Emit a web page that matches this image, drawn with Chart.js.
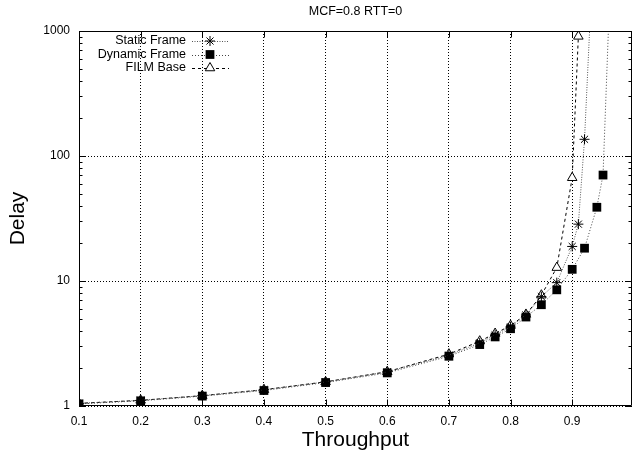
<!DOCTYPE html>
<html>
<head>
<meta charset="utf-8">
<script src="https://cdn.jsdelivr.net/npm/chart.js@4/dist/chart.umd.min.js"></script>
<style>
html,body{margin:0;padding:0;background:#fff;}
#c{display:block;}
</style>
</head>
<body>
<canvas id="c" width="632" height="452"></canvas>
<script>
// ---- data ----
const titleText = 'MCF=0.8 RTT=0';
const xTitle = 'Throughput';
const yTitle = 'Delay';
const seriesNames = ['Static Frame', 'Dynamic Frame', 'FILM Base'];

const staticX = [0.1,0.2,0.3,0.4,0.5,0.6,0.7,0.75,0.775,0.8,0.825,0.85,0.875,0.9,0.91,0.92,0.93];
const staticY = [1.05,1.11,1.21,1.35,1.56,1.88,2.55,3.2,3.7,4.3,5.35,7.5,9.7,18.9,28.5,136,1550];

const dynamicX = [0.1,0.2,0.3,0.4,0.5,0.6,0.7,0.75,0.775,0.8,0.825,0.85,0.875,0.9,0.92,0.94,0.95,0.96];
const dynamicY = [1.04,1.1,1.2,1.33,1.54,1.84,2.5,3.1,3.57,4.15,5.15,6.46,8.5,12.4,18.3,38.9,70.4,1500];

const filmX = [0.1,0.2,0.3,0.4,0.5,0.6,0.7,0.75,0.775,0.8,0.825,0.85,0.875,0.9,0.91];
const filmY = [1.05,1.11,1.21,1.35,1.56,1.88,2.6,3.3,3.8,4.4,5.4,7.7,12.8,67,906];

const xTickValues = [0.1,0.2,0.3,0.4,0.5,0.6,0.7,0.8,0.9];
const yMajorTicks = [1,10,100,1000];

// ---- helpers ----
const toPts = (xs, ys) => xs.map((x, i) => ({x: x, y: ys[i]}));
const isMajorY = v => Math.abs(Math.log10(v) - Math.round(Math.log10(v))) < 1e-9;
const yTickValues = [];
for (let d = 0; d < 3; d++) {
  for (let m = 1; m < 10; m++) yTickValues.push(m * Math.pow(10, d));
}
yTickValues.push(1000);

const FONT = '"Liberation Sans", Arial, Helvetica, sans-serif';

const datasets = [
  {label: seriesNames[0], data: toPts(staticX, staticY), borderColor: '#555', borderWidth: 1,
   borderDash: [1, 1.5], pointStyle: 'star', pointRadius: 5, pointBorderColor: '#000',
   pointBackgroundColor: '#000', pointBorderWidth: 1},
  {label: seriesNames[1], data: toPts(dynamicX, dynamicY), borderColor: '#444', borderWidth: 1,
   borderDash: [1, 2], pointStyle: 'rect', pointRadius: 6.2, pointBorderColor: '#000',
   pointBackgroundColor: '#000', pointBorderWidth: 0},
  {label: seriesNames[2], data: toPts(filmX, filmY), borderColor: '#000', borderWidth: 1,
   borderDash: [3, 3], pointStyle: 'triangle', pointRadius: 5.5, pointBorderColor: '#000',
   pointBackgroundColor: '#fff', pointBorderWidth: 1}
];
datasets.forEach(d => { d.tension = 0; d.fill = false; d.showLine = true; d.pointHoverRadius = d.pointRadius; });

function drawMarker(ctx, style, x, y, r, fill) {
  ctx.save();
  ctx.strokeStyle = '#000';
  ctx.fillStyle = fill;
  ctx.lineWidth = 1;
  ctx.setLineDash([]);
  ctx.beginPath();
  if (style === 'star') {
    for (let k = 0; k < 4; k++) {
      const a = k * Math.PI / 4;
      ctx.moveTo(x - Math.cos(a) * r, y - Math.sin(a) * r);
      ctx.lineTo(x + Math.cos(a) * r, y + Math.sin(a) * r);
    }
    ctx.stroke();
  } else if (style === 'rect') {
    const s = r * Math.SQRT1_2;
    ctx.rect(x - s, y - s, 2 * s, 2 * s);
    ctx.fill();
  } else if (style === 'triangle') {
    ctx.moveTo(x, y - r);
    ctx.lineTo(x + r * Math.cos(Math.PI / 6), y + r / 2);
    ctx.lineTo(x - r * Math.cos(Math.PI / 6), y + r / 2);
    ctx.closePath();
    ctx.fill();
    ctx.stroke();
  }
  ctx.restore();
}

const decorPlugin = {
  id: 'decor',
  afterDraw(chart) {
    const ctx = chart.ctx;
    const a = chart.chartArea;
    const xs = chart.scales.x, ys = chart.scales.y;
    ctx.save();
    // frame
    ctx.strokeStyle = '#000';
    ctx.lineWidth = 1;
    ctx.setLineDash([]);
    const L = Math.round(a.left) + 0.5, R = Math.round(a.right) - 0.5;
    const T = Math.round(a.top) + 0.5, B = Math.round(a.bottom) - 0.5;
    ctx.beginPath();
    ctx.moveTo(L, T); ctx.lineTo(R, T); ctx.lineTo(R, B); ctx.lineTo(L, B); ctx.closePath();
    ctx.stroke();
    // inside ticks
    ctx.beginPath();
    xTickValues.forEach(v => {
      const px = Math.round(xs.getPixelForValue(v)) + 0.5;
      ctx.moveTo(px, B); ctx.lineTo(px, B - 6);
      ctx.moveTo(px, T); ctx.lineTo(px, T + 6);
    });
    yTickValues.forEach(v => {
      const py = Math.round(ys.getPixelForValue(v)) + 0.5;
      const len = isMajorY(v) ? 6 : 3;
      ctx.moveTo(L, py); ctx.lineTo(L + len, py);
      ctx.moveTo(R, py); ctx.lineTo(R - len, py);
    });
    ctx.stroke();
    // title
    ctx.fillStyle = '#000';
    ctx.textAlign = 'center';
    ctx.textBaseline = 'middle';
    ctx.font = '12.5px ' + FONT;
    ctx.fillText(titleText, (a.left + a.right) / 2, 12);
    // axis titles
    ctx.font = '21px ' + FONT;
    ctx.fillText(xTitle, (a.left + a.right) / 2, 440);
    ctx.save();
    ctx.translate(18, (a.top + a.bottom) / 2);
    ctx.rotate(-Math.PI / 2);
    ctx.fillText(yTitle, 0, 0);
    ctx.restore();
    // legend
    ctx.font = '12.5px ' + FONT;
    ctx.textAlign = 'right';
    const rowsY = [41, 54.5, 68];
    chart.data.datasets.forEach((d, i) => {
      const y = rowsY[i];
      ctx.fillStyle = '#000';
      ctx.fillText(d.label, 186, y);
      ctx.save();
      ctx.strokeStyle = d.borderColor;
      ctx.lineWidth = 1;
      ctx.setLineDash(d.borderDash);
      ctx.beginPath();
      ctx.moveTo(192, Math.round(y) + 0.5);
      ctx.lineTo(229, Math.round(y) + 0.5);
      ctx.stroke();
      ctx.restore();
      drawMarker(ctx, d.pointStyle, 210, y, d.pointRadius, d.pointBackgroundColor);
    });
    ctx.restore();
  }
};

new Chart(document.getElementById('c'), {
  type: 'line',
  data: {datasets: datasets},
  options: {
    responsive: false,
    devicePixelRatio: 1,
    animation: false,
    events: [],
    layout: {autoPadding: false, padding: {top: 31, right: 0, left: 0, bottom: 0}},
    plugins: {legend: {display: false}, title: {display: false}, tooltip: {enabled: false}},
    scales: {
      x: {
        type: 'linear',
        min: 0.1,
        max: 0.997,
        afterFit: s => { s.height = 46; s.paddingLeft = 0; s.paddingRight = 0; },
        afterBuildTicks: s => { s.ticks = xTickValues.map(v => ({value: v})); },
        ticks: {
          autoSkip: false, maxRotation: 0, padding: 8, color: '#000',
          font: {family: FONT, size: 12},
          callback: v => (Math.round(v * 10) / 10).toFixed(1)
        },
        grid: {
          drawTicks: false, color: '#000', lineWidth: 1
        },
        border: {display: false, dash: [1, 2]}
      },
      y: {
        type: 'logarithmic',
        min: 1,
        max: 1000,
        afterFit: s => { s.width = 79; },
        afterBuildTicks: s => { s.ticks = yTickValues.map(v => ({value: v, major: isMajorY(v)})); },
        ticks: {
          autoSkip: false, padding: 9, color: '#000',
          font: {family: FONT, size: 12},
          callback: v => isMajorY(v) ? String(Math.round(v)) : ''
        },
        grid: {
          drawTicks: false, lineWidth: 1,
          color: c => (c.tick && isMajorY(c.tick.value)) ? '#000' : 'rgba(0,0,0,0)'
        },
        border: {display: false, dash: [1, 2]}
      }
    }
  },
  plugins: [decorPlugin]
});
</script>
</body>
</html>
